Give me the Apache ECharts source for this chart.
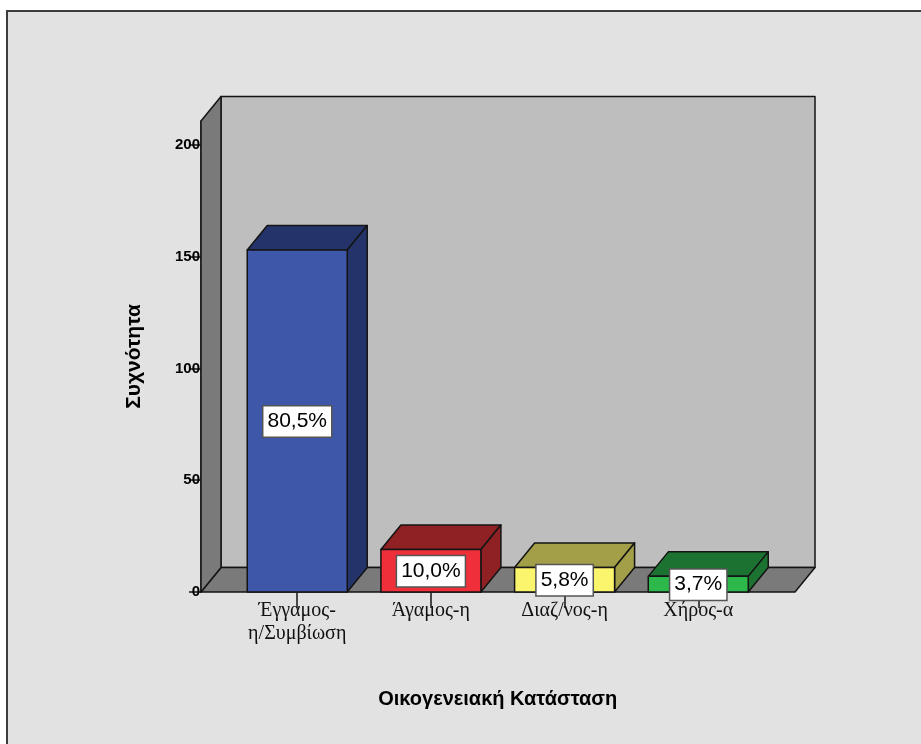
<!DOCTYPE html>
<html>
<head>
<meta charset="utf-8">
<style>html,body{margin:0;padding:0;background:#fff}#c{width:921px;height:744px}</style>
<script src="https://cdn.jsdelivr.net/npm/echarts@6/dist/echarts.min.js"></script>
</head>
<body>
<div id="c"></div>
<script>
const categories = ['Έγγαμος-\nη/Συμβίωση', 'Άγαμος-η', 'Διαζ/νος-η', 'Χήρος-α'];
const frequencies = [153, 19, 11, 7];
const percentLabels = ['80,5%', '10,0%', '5,8%', '3,7%'];
const yTicks = [0, 50, 100, 150, 200];
const yMax = 210.7;
const frontColors = ['#3f57a8', '#ef2f39', '#fbf56e', '#2db84b'];
const shadeColors = ['#24346a', '#8f2023', '#a39f48', '#1c7331'];

const DX = 20, DY = 24.5, BAR_RATIO = 0.748, WALL_PAD_L = 29.4, WALL_PAD_R = 29.9;
const EDGE = '#141414';
const SANS = '"Liberation Sans", Arial, sans-serif';
const SERIF = '"Liberation Serif", "Times New Roman", serif';

function poly(points, fill, z2) {
  return { type: 'polygon', shape: { points }, z2,
    style: { fill, stroke: EDGE, lineWidth: 1.5, lineJoin: 'round' } };
}

function renderWalls(params, api) {
  const cs = params.coordSys;
  const x0 = cs.x - WALL_PAD_L, x1 = cs.x + cs.width + WALL_PAD_R;
  const yb = api.coord([0, 0])[1], yt = api.coord([0, yMax])[1];
  return { type: 'group', children: [
    poly([[x0 + DX, yt - DY], [x1 + DX - DX + DX, yt - DY], [x1 + DX, yb - DY], [x0 + DX, yb - DY]], '#bebebe', 1),
    poly([[x0, yb], [x0 + DX, yb - DY], [x1 + DX, yb - DY], [x1, yb]], '#7a7a7a', 2),
    poly([[x0, yt], [x0 + DX, yt - DY], [x0 + DX, yb - DY], [x0, yb]], '#7a7a7a', 3)
  ]};
}

function renderBox(params, api) {
  const i = api.value(0);
  const top = api.coord([i, api.value(1)]);
  const base = api.coord([i, 0]);
  const w = api.size([1, 0])[0] * BAR_RATIO;
  const l = top[0] - w / 2, r = top[0] + w / 2, t = top[1], b = base[1];
  return { type: 'group', children: [
    poly([[l, t], [l + DX, t - DY], [r + DX, t - DY], [r, t]], shadeColors[i], 10),
    poly([[r, t], [r + DX, t - DY], [r + DX, b - DY], [r, b]], shadeColors[i], 10),
    poly([[l, t], [r, t], [r, b], [l, b]], frontColors[i], 11),
    { type: 'text', z2: 20,
      style: {
        text: percentLabels[i], x: top[0], y: (t + b) / 2 + 0.5,
        align: 'center', verticalAlign: 'middle',
        font: '21px ' + SANS, fill: '#000',
        backgroundColor: '#fff', borderColor: '#555', borderWidth: 1.5,
        padding: [5, 4, 4, 4]
      } }
  ]};
}

const chart = echarts.init(document.getElementById('c'), null, { renderer: 'canvas' });
chart.setOption({
  animation: false,
  backgroundColor: '#fff',
  graphic: [{ type: 'rect', z: -10, silent: true,
    shape: { x: 7, y: 11, width: 930, height: 750 },
    style: { fill: '#e2e2e2', stroke: '#3c3c3c', lineWidth: 2 } }],
  grid: { left: 230.4, top: 121, width: 534.7, height: 471 },
  xAxis: {
    type: 'category', data: categories,
    axisLine: { show: false },
    axisTick: { show: true, alignWithLabel: true, length: 16, lineStyle: { color: '#141414', width: 1.5 } },
    axisLabel: { interval: 0, margin: 7, color: '#111', fontFamily: SERIF, fontSize: 20, lineHeight: 23 },
    name: 'Οικογενειακή Κατάσταση', nameLocation: 'middle', nameGap: 97,
    nameTextStyle: { fontFamily: SANS, fontWeight: 'bold', fontSize: 20, color: '#000' }
  },
  yAxis: {
    type: 'value', min: 0, max: yMax, offset: WALL_PAD_L,
    splitLine: { show: false },
    axisLine: { show: true, lineStyle: { color: '#141414', width: 1.5 } },
    axisTick: { show: true, length: 12, customValues: yTicks, lineStyle: { color: '#141414', width: 1.5 } },
    axisLabel: { margin: 1, customValues: yTicks, color: '#000', fontFamily: SANS, fontSize: 15, fontWeight: 'bold', padding: [3, 0, 0, 0] },
    name: 'Συχνότητα', nameLocation: 'middle', nameGap: 56,
    nameTextStyle: { fontFamily: SANS, fontWeight: 'bold', fontSize: 21, color: '#000' }
  },
  series: [
    { type: 'custom', z: 1, silent: true, renderItem: renderWalls, data: [[0, 0]], encode: { x: 0, y: 1 } },
    { type: 'custom', z: 2, silent: true, renderItem: renderBox,
      data: frequencies.map((v, i) => [i, v]), encode: { x: 0, y: 1 } }
  ]
});
</script>
</body>
</html>
